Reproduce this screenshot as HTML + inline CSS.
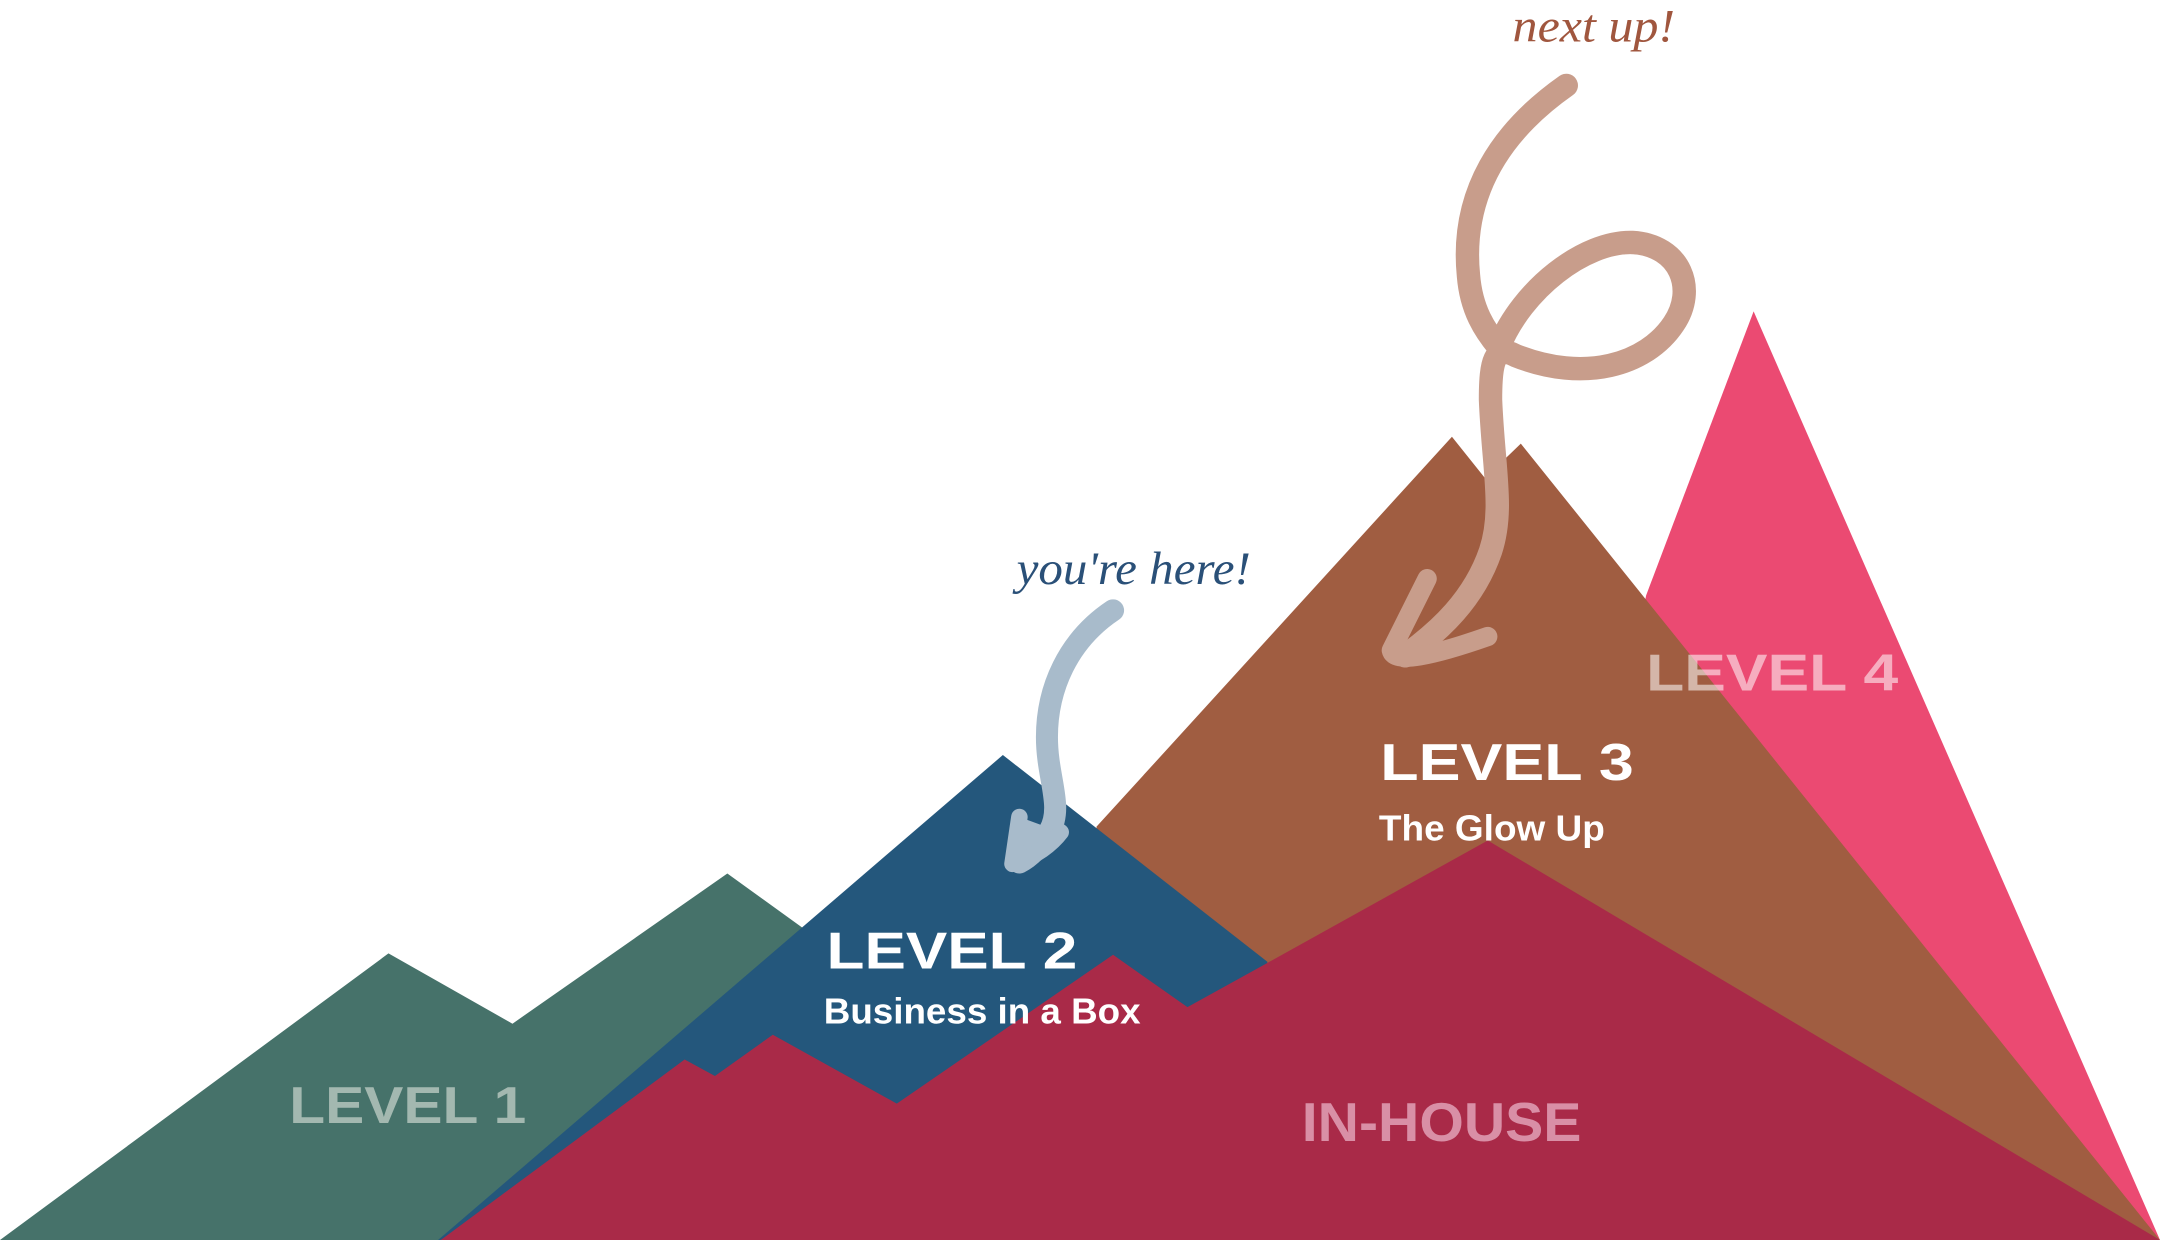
<!DOCTYPE html>
<html><head><meta charset="utf-8"><style>
html,body{margin:0;padding:0;background:#fff;}
svg{display:block;}
</style></head><body>
<svg width="2160" height="1240" viewBox="0 0 1568 900" preserveAspectRatio="none" xmlns="http://www.w3.org/2000/svg">
<rect width="1568" height="900" fill="#fff"/>
<polygon points="1273,226 1568,900 1100,900 1195,432" fill="#eb4a72"/>
<polygon points="0,900 282,692 372,743 528,634 600,686 600,900" fill="#46726a"/>
<polygon points="796,600 1054,317 1078,347 1104,322 1568,900 796,900" fill="#a05d41"/>
<polygon points="318,900 728,548 920,698 920,900" fill="#24577c"/>
<polygon points="320,900 497,769 519,781 561,751 651,801 808,693 862,731 918,700 1080,610 1568,900" fill="#a92a48"/>

<g font-family="Liberation Sans, sans-serif" font-weight="bold">
<text x="210" y="815" font-size="38" fill="#a3b8b0" textLength="172" lengthAdjust="spacingAndGlyphs">LEVEL 1</text>
<text x="600" y="703" font-size="38" fill="#fff" textLength="182" lengthAdjust="spacingAndGlyphs">LEVEL 2</text>
<text x="598" y="743" font-size="26" fill="#fff" textLength="230" lengthAdjust="spacingAndGlyphs">Business in a Box</text>
<text x="1002" y="566" font-size="38" fill="#fff" textLength="184" lengthAdjust="spacingAndGlyphs">LEVEL 3</text>
<text x="1001" y="610" font-size="26" fill="#fff" textLength="164" lengthAdjust="spacingAndGlyphs">The Glow Up</text>
<text x="1195" y="501" font-size="38" fill="#fff" fill-opacity="0.55" textLength="183" lengthAdjust="spacingAndGlyphs">LEVEL 4</text>
<text x="945" y="828" font-size="40" fill="#d98fa6" textLength="203" lengthAdjust="spacingAndGlyphs">IN-HOUSE</text>
</g>
<g font-family="Liberation Serif, serif" font-style="italic">
<text x="738" y="424" font-size="34" fill="#2a5078" textLength="170" lengthAdjust="spacingAndGlyphs">you're here!</text>
<text x="1098" y="30" font-size="34" fill="#a0563e" textLength="118" lengthAdjust="spacingAndGlyphs">next up!</text>
</g>

<g fill="none" stroke="#a8bbcb" stroke-linecap="round" stroke-linejoin="round">
<path d="M808,443 C775,465 760,500 760,535 C760,565 772,585 762,603 C755,615 748,622 740,626" stroke-width="16"/>
<path d="M740,593 L735,627 C752,622 764,612 770,604" stroke-width="12" fill="#a8bbcb"/>
</g>
<g fill="none" stroke="#c89d8b" stroke-linecap="round" stroke-linejoin="round">
<path d="M1137,62 C1090,95 1060,140 1066,200 C1068,225 1078,240 1088,252 C1105,210 1150,175 1185,176 C1220,178 1232,210 1215,235 C1195,265 1150,278 1100,258 C1085,250 1082,262 1082,290 C1084,340 1092,370 1082,400 C1070,435 1045,458 1020,476" stroke-width="17"/>
<path d="M1036,420 L1010,472 C1012,482 1040,476 1080,462" stroke-width="14"/>
</g>
</svg>
</body></html>
